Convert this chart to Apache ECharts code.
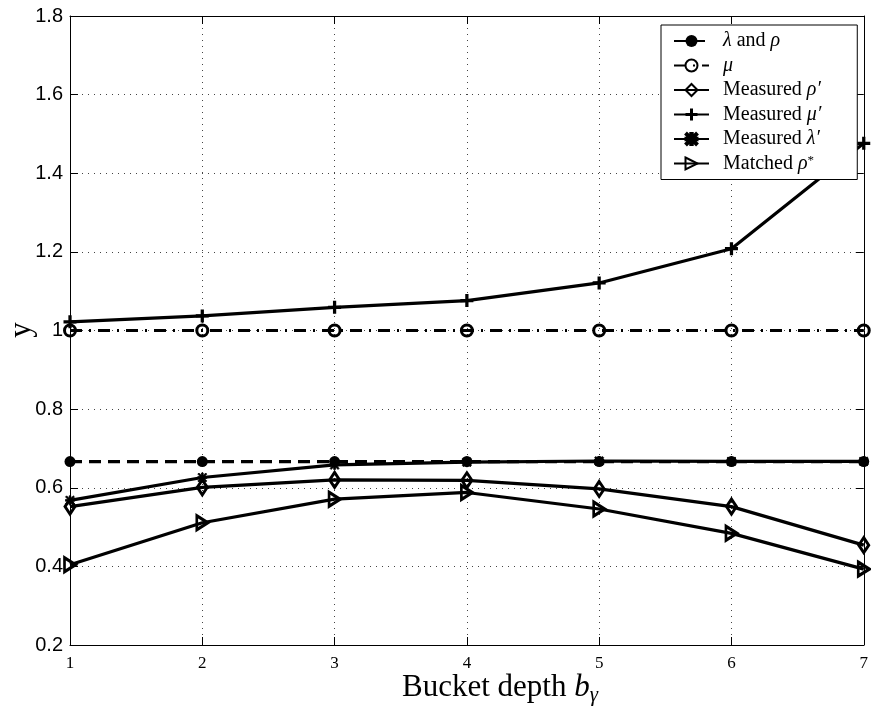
<!DOCTYPE html>
<html>
<head>
<meta charset="utf-8">
<script src="https://cdn.jsdelivr.net/npm/echarts@6/dist/echarts.min.js"></script>
<style>
  html, body { margin: 0; padding: 0; background: #fff; }
  #chart { width: 871px; height: 706px; }
</style>
</head>
<body>
<div id="chart"></div>
<script>
// Bucket depth on the x axis
const bucketDepth = [1, 2, 3, 4, 5, 6, 7];

// Series values
const lambdaRho      = [0.6667, 0.6667, 0.6667, 0.6667, 0.6667, 0.6667, 0.6667];
const mu             = [1, 1, 1, 1, 1, 1, 1];
const measuredRho    = [0.552, 0.601, 0.620, 0.619, 0.597, 0.552, 0.454];
const measuredMu     = [1.022, 1.037, 1.059, 1.076, 1.121, 1.208, 1.476];
const measuredLambda = [0.568, 0.626, 0.658, 0.665, 0.668, 0.667, 0.667];
const matchedRho     = [0.404, 0.511, 0.571, 0.588, 0.546, 0.484, 0.393];

// Axis ranges and tick spacing
const xRange = [1, 7], xStep = 1;
const yRange = [0.2, 1.8], yStep = 0.2;

const SERIF = '"Liberation Serif", "Times New Roman", serif';
const SANS = '"Liberation Sans", Arial, sans-serif';

const pairs = vals => bucketDepth.map((x, i) => [x, vals[i]]);

// marker shapes
const plusPath = 'path://M0,4.5 H4.5 V0 H7.5 V4.5 H12 V7.5 H7.5 V12 H4.5 V7.5 H0 Z';
const starPath = 'path://M4,0 H6 V10 H4 Z M0,4 H10 V6 H0 Z M1.2,0 L10,8.8 L8.8,10 L0,1.2 Z M8.8,0 L10,1.2 L1.2,10 L0,8.8 Z';
const triPath = 'path://M0,0 L11,6.5 L0,13 Z';

const legendText = {
  'lambdaRho': '{i|λ} and {i|ρ}',
  'mu': '{i|μ}',
  'measuredRho': 'Measured {i|ρ′}',
  'measuredMu': 'Measured {i|μ′}',
  'measuredLambda': 'Measured {i|λ′}',
  'matchedRho': 'Matched {i|ρ}{sup|*}'
};

function lineSeries(name, vals, opts) {
  return Object.assign({
    name: name,
    type: 'line',
    data: pairs(vals),
    xAxisIndex: 0,
    yAxisIndex: 0,
    clip: false,
    color: '#000',
    lineStyle: { color: '#000', width: 3.2, type: 'solid' },
    emphasis: { disabled: true },
    animation: false
  }, opts);
}

const chart = echarts.init(document.getElementById('chart'), null, { renderer: 'canvas' });

const grid = { left: 70, top: 16, right: 4, bottom: 61, containLabel: false };

const option = {
  backgroundColor: '#fff',
  animation: false,
  grid: grid,
  xAxis: [
    {
      type: 'value', min: xRange[0], max: xRange[1], interval: xStep,
      position: 'bottom',
      axisLine: { show: true, onZero: false, lineStyle: { color: '#000', width: 1 } },
      axisTick: { show: true, inside: true, length: 8, lineStyle: { color: '#000' } },
      axisLabel: { color: '#000', fontFamily: SERIF, fontSize: 17, margin: 10 },
      splitLine: { show: true, lineStyle: { color: '#444', width: 1, type: [1, 5] } }
    },
    {
      type: 'value', min: xRange[0], max: xRange[1], interval: xStep,
      position: 'top',
      axisLine: { show: true, onZero: false, lineStyle: { color: '#000', width: 1 } },
      axisTick: { show: true, inside: true, length: 8, lineStyle: { color: '#000' } },
      axisLabel: { show: false },
      splitLine: { show: false }
    }
  ],
  yAxis: [
    {
      type: 'value', min: yRange[0], max: yRange[1], interval: yStep,
      position: 'left',
      axisLine: { show: true, onZero: false, lineStyle: { color: '#000', width: 1 } },
      axisTick: { show: true, inside: true, length: 8, lineStyle: { color: '#000' } },
      axisLabel: { color: '#000', fontFamily: SANS, fontSize: 20, margin: 7 },
      splitLine: { show: true, lineStyle: { color: '#444', width: 1, type: [1, 5] } }
    },
    {
      type: 'value', min: yRange[0], max: yRange[1], interval: yStep,
      position: 'right',
      axisLine: { show: true, onZero: false, lineStyle: { color: '#000', width: 1 } },
      axisTick: { show: true, inside: true, length: 8, lineStyle: { color: '#000' } },
      axisLabel: { show: false },
      splitLine: { show: false }
    }
  ],
  legend: {
    orient: 'vertical',
    left: 661,
    top: 25,
    backgroundColor: '#fff',
    borderColor: '#000',
    borderWidth: 1,
    borderRadius: 0,
    padding: [6, 36, 4, 12],
    itemWidth: 35,
    itemHeight: 15,
    itemGap: 4.5,
    selectedMode: false,
    formatter: name => legendText[name],
    textStyle: {
      color: '#000', fontFamily: SERIF, fontSize: 20, lineHeight: 18, padding: [0, 0, 0, 9],
      rich: {
        i: { fontFamily: SERIF, fontStyle: 'italic', fontSize: 20, lineHeight: 18, color: '#000' },
        sup: { fontFamily: SERIF, fontSize: 13, lineHeight: 18, color: '#000', verticalAlign: 'top', padding: [0, 0, 8, 0] }
      }
    },
    data: ['lambdaRho', 'mu', 'measuredRho', 'measuredMu', 'measuredLambda', 'matchedRho']
  },
  graphic: [
    {
      type: 'text',
      x: 500, y: 688,
      style: {
        text: 'Bucket depth {i|b}{sub|γ}',
        font: '31px ' + SERIF,
        fill: '#000',
        align: 'center',
        verticalAlign: 'middle',
        rich: {
          i: { fontFamily: SERIF, fontStyle: 'italic', fontSize: 31, fill: '#000' },
          sub: { fontFamily: SERIF, fontStyle: 'italic', fontSize: 21, fill: '#000', padding: [14, 0, 0, 0] }
        }
      }
    },
    {
      type: 'text',
      x: 22, y: 330,
      rotation: Math.PI / 2,
      style: {
        text: 'y',
        font: '31px ' + SERIF,
        fill: '#000',
        align: 'center',
        verticalAlign: 'middle'
      }
    }
  ],
  series: [
    lineSeries('lambdaRho', lambdaRho, {
      symbol: 'circle', symbolSize: 11,
      itemStyle: { color: '#000' },
      lineStyle: { color: '#000', width: 3.2, type: [12, 7] }
    }),
    lineSeries('mu', mu, {
      symbol: 'circle', symbolSize: 11,
      itemStyle: { color: 'rgba(0,0,0,0)', borderColor: '#000', borderWidth: 3 },
      lineStyle: { color: '#000', width: 3.2, type: [12, 7, 2, 7] }
    }),
    lineSeries('measuredRho', measuredRho, {
      symbol: 'diamond', symbolSize: [10, 15],
      itemStyle: { color: 'rgba(0,0,0,0)', borderColor: '#000', borderWidth: 3 }
    }),
    lineSeries('measuredMu', measuredMu, {
      symbol: plusPath, symbolSize: 13,
      itemStyle: { color: '#000' }
    }),
    lineSeries('measuredLambda', measuredLambda, {
      symbol: starPath, symbolSize: 9,
      itemStyle: { color: '#000', borderColor: '#000', borderWidth: 0.8 }
    }),
    lineSeries('matchedRho', matchedRho, {
      symbol: triPath, symbolSize: [11, 14],
      itemStyle: { color: 'rgba(0,0,0,0)', borderColor: '#000', borderWidth: 3 }
    })
  ]
};

chart.setOption(option);
</script>
</body>
</html>
